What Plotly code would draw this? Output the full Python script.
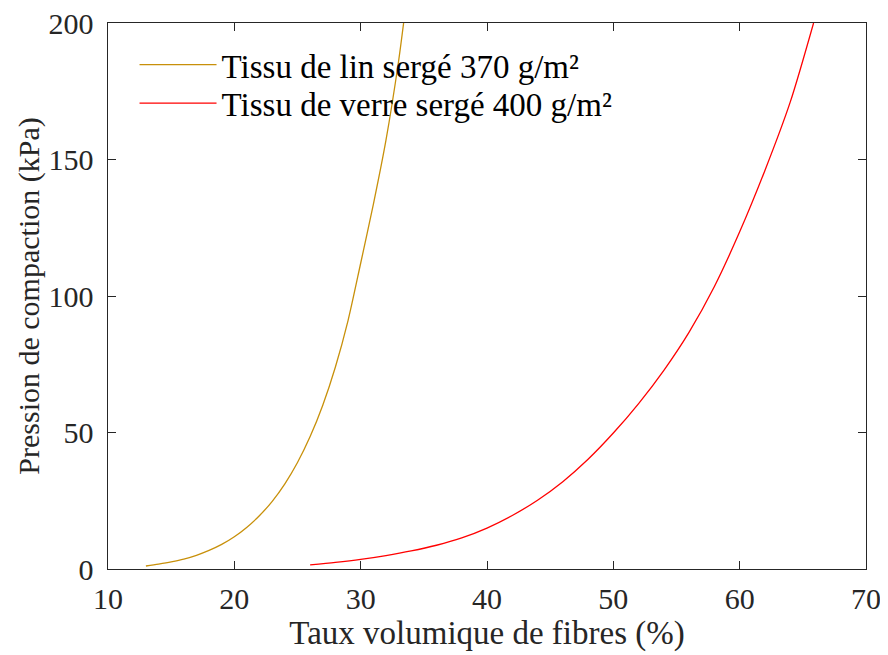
import plotly.graph_objects as go

# Flax twill 370 g/m2
flax_x = [13, 14, 15, 16, 17, 18, 19, 20, 21, 22, 23, 24, 25, 26, 27, 28, 29, 30, 31, 32, 33, 33.4]
flax_y = [1.1, 1.8, 2.6, 3.6, 5.0, 6.8, 9.0, 11.8, 15.3, 19.6, 24.8, 31.2, 39.0, 48.5, 60.0, 74.0, 91.0, 112.0, 133.5, 157.0, 186.0, 200.0]

# Glass twill 400 g/m2
glass_x = [26, 28, 30, 32, 34, 36, 38, 40, 42, 44, 46, 48, 50, 52, 54, 56, 58, 60, 62, 64, 65.85]
glass_y = [1.5, 2.4, 3.5, 4.9, 6.6, 8.7, 11.4, 15.0, 19.6, 25.2, 32.0, 40.2, 49.8, 60.6, 72.8, 86.8, 103.5, 123.5, 146.0, 171.0, 200.0]

names = ["Tissu de lin sergé 370 g/m²", "Tissu de verre sergé 400 g/m²"]
colors = ["#c8900a", "#ff0000"]

x_ticks = [10, 20, 30, 40, 50, 60, 70]
y_ticks = [0, 50, 100, 150, 200]

FONT = "Liberation Serif"
TICK_FS = 30
LEG_FS = 33

fig = go.Figure()
fig.add_trace(go.Scatter(x=flax_x, y=flax_y, mode="lines", name=names[0], legend="legend",
                         line=dict(color=colors[0], width=1.3, shape="spline", smoothing=0.8)))
fig.add_trace(go.Scatter(x=glass_x, y=glass_y, mode="lines", name=names[1], legend="legend2",
                         line=dict(color=colors[1], width=1.3, shape="spline", smoothing=0.8)))

axis_common = dict(showline=True, mirror="ticks", linecolor="#262626", linewidth=1,
                   ticks="inside", ticklen=8, tickcolor="#262626", tickwidth=1,
                   showgrid=False, zeroline=False, automargin=False,
                   ticklabeloverflow="allow",
                   tickfont=dict(family=FONT, size=TICK_FS, color="#262626"))

leg_common = dict(xanchor="left", yanchor="middle",
                  bgcolor="rgba(255,255,255,0)", borderwidth=0,
                  font=dict(family=FONT, size=LEG_FS, color="black"),
                  itemwidth=77)

fig.update_layout(
    width=880, height=647,
    margin=dict(l=100, r=22, t=15, b=86),
    paper_bgcolor="white", plot_bgcolor="white",
    font=dict(family=FONT, size=TICK_FS, color="#262626"),
    xaxis=dict(range=[10, 70], tickvals=x_ticks, ticklabelstandoff=3,
               title=dict(text="Taux volumique de fibres (%)", font=dict(family=FONT, size=33, color="#262626"), standoff=0),
               **axis_common),
    yaxis=dict(range=[0, 200], tickvals=y_ticks,
               ticktext=[f"{v}\u00a0" for v in y_ticks],
               title=dict(text="Pression de compaction (kPa)", font=dict(family=FONT, size=30, color="#262626"), standoff=0),
               **axis_common),
    legend=dict(x=0.035, y=0.9235, **leg_common),
    legend2=dict(x=0.035, y=0.853, **leg_common),
    showlegend=True,
)

fig.write_html("out.html")
